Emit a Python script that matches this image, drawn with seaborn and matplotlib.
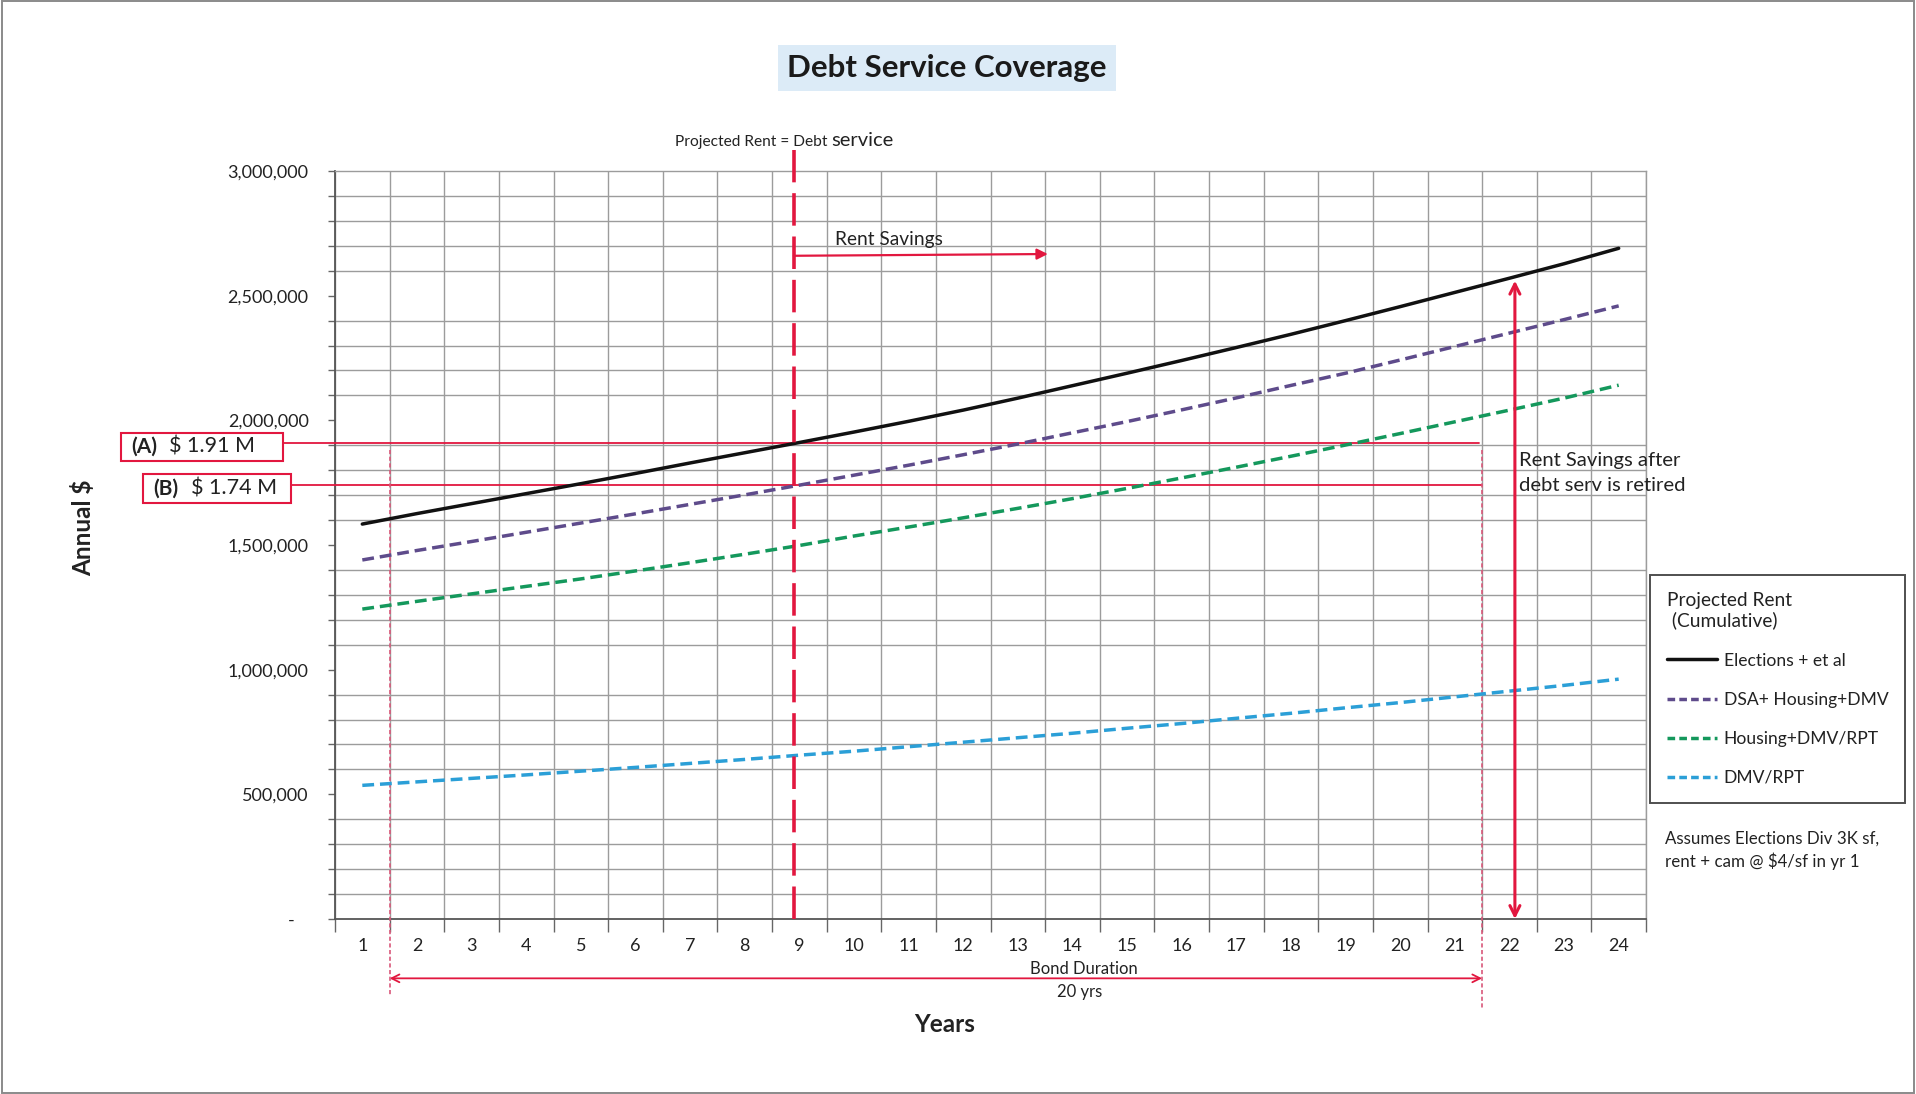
import matplotlib
matplotlib.use("Agg")
import matplotlib.pyplot as plt
import numpy as np
import pandas as pd
import seaborn as sns
from matplotlib.lines import Line2D
from matplotlib.patches import Rectangle
from matplotlib.ticker import FixedLocator, FuncFormatter

# ---- data -------------------------------------------------------------
years = list(range(1, 25))

elections = [1584000, 1626000, 1666000, 1706000, 1746000, 1787000, 1829000, 1870000,
             1911000, 1953000, 1996000, 2041000, 2089000, 2139000, 2189000, 2240000,
             2292000, 2345000, 2400000, 2456000, 2513000, 2570000, 2628000, 2690000]
dsa_housing_dmv = [1440000, 1478000, 1514000, 1551000, 1588000, 1625000, 1663000, 1701000,
                   1740000, 1780000, 1820000, 1862000, 1905000, 1950000, 1995000, 2042000,
                   2090000, 2140000, 2189000, 2242000, 2296000, 2350000, 2404000, 2459000]
housing_dmv_rpt = [1243000, 1274000, 1304000, 1334000, 1364000, 1396000, 1429000, 1463000,
                   1498000, 1536000, 1572000, 1609000, 1647000, 1686000, 1727000, 1769000,
                   1812000, 1856000, 1901000, 1947000, 1994000, 2041000, 2089000, 2141000]
dmv_rpt = [536000, 550000, 564000, 578000, 593000, 608000, 624000, 640000,
           657000, 673000, 691000, 709000, 727000, 745000, 765000, 784000,
           805000, 825000, 847000, 868000, 891000, 914000, 937000, 962000]

series_names = ["Elections + et al", "DSA+ Housing+DMV", "Housing+DMV/RPT", "DMV/RPT"]
series_values = [elections, dsa_housing_dmv, housing_dmv_rpt, dmv_rpt]
series_colors = ["#111111", "#5e4b8b", "#14985c", "#2b9fd7"]

debt_service_a = 1910000   # (A) $ 1.91 M
debt_service_b = 1740000   # (B) $ 1.74 M
y_ticks = [0, 500000, 1000000, 1500000, 2000000, 2500000, 3000000]

# ---- figure -------------------------------------------------------------
W, H, DPI = 1916, 1094, 100
sns.set_theme(style="white")
plt.rcParams["font.family"] = ["Lato", "DejaVu Sans"]

fig = plt.figure(figsize=(W / DPI, H / DPI), dpi=DPI)
fig.patch.set_facecolor("white")


def fx(px):
    return px / W


def fy(py):
    return 1 - py / H


ax = fig.add_axes([fx(335), fy(919), fx(1646) - fx(335), fy(171) - fy(919)])

df = pd.DataFrame({
    "Year": years * len(series_names),
    "Rent": [v for vals in series_values for v in vals],
    "Series": [n for n in series_names for _ in years],
})
dash_map = {series_names[0]: "", series_names[1]: (3.4, 1.7),
            series_names[2]: (3.4, 1.7), series_names[3]: (3.4, 1.7)}
sns.lineplot(data=df, x="Year", y="Rent", hue="Series", style="Series",
             hue_order=series_names, style_order=series_names,
             palette=dict(zip(series_names, series_colors)), dashes=dash_map,
             linewidth=2.5, legend=False, ax=ax, zorder=5)

# ---- axes styling ---------------------------------------------------------
grid_c = "#9c9c9c"
ax.set_xlim(0.5, 24.5)
ax.set_ylim(0, 3000000)
ax.set_xlabel("")
ax.set_ylabel("")

ax.xaxis.set_major_locator(FixedLocator(years))
ax.xaxis.set_minor_locator(FixedLocator([y + 0.5 for y in range(0, 25)]))
ax.set_xticklabels([str(y) for y in years])
ax.yaxis.set_major_locator(FixedLocator(y_ticks))
ax.yaxis.set_minor_locator(FixedLocator(list(range(0, 3000001, 100000))))
ax.yaxis.set_major_formatter(FuncFormatter(lambda v, p: "-   " if v == 0 else f"{int(v):,}"))

ax.grid(False)
ax.grid(which="minor", axis="both", color=grid_c, linewidth=1.0)
ax.tick_params(axis="x", which="major", length=0, pad=14, labelsize=13, labelcolor="#222222")
ax.tick_params(axis="x", which="minor", length=9, width=1.0, color="#666666", direction="out")
ax.tick_params(axis="y", which="both", length=5, width=1.0, color="#666666", direction="out",
               left=True)
ax.tick_params(axis="y", which="major", pad=14, labelsize=13, labelcolor="#222222")
ax.tick_params(axis="x", which="both", bottom=True)
for side in ("left", "bottom"):
    ax.spines[side].set_color("#555555")
    ax.spines[side].set_linewidth(1.3)
for side in ("top", "right"):
    ax.spines[side].set_color(grid_c)
    ax.spines[side].set_linewidth(1.0)

# ---- annotations ----------------------------------------------------------
red = "#e2173f"
pink = "#d9587a"
breakeven_year = 8.9

# projected rent = debt service marker
ax.plot([breakeven_year, breakeven_year], [0, 3085000], color=red, lw=2.6,
        dashes=(9, 3), clip_on=False, zorder=6)

# debt service levels
ax.plot([-0.45, 21.45], [debt_service_a, debt_service_a], color=red, lw=1.3,
        clip_on=False, zorder=4)
ax.plot([-0.31, 21.5], [debt_service_b, debt_service_b], color=red, lw=1.3,
        clip_on=False, zorder=4)

# bond term boundaries
for bx, bottom in ((1.5, -310000), (21.5, -360000)):
    ax.plot([bx, bx], [1880000, bottom], color=pink, lw=1.2, dashes=(2.5, 1.5),
            clip_on=False, zorder=4)

# rent savings arrow
ax.annotate("", xy=(13.55, 2667000), xytext=(breakeven_year, 2660000),
            arrowprops=dict(arrowstyle="-|>", color=red, lw=1.6, mutation_scale=16,
                            shrinkA=0, shrinkB=0), zorder=6)
ax.text(9.65, 2727000, "Rent Savings", fontsize=13.8, color="#222222",
        ha="left", va="center")

# savings after retirement arrow
ax.annotate("", xy=(22.1, 2560000), xytext=(22.1, 0),
            arrowprops=dict(arrowstyle="<->", color=red, lw=2.2, mutation_scale=18,
                            shrinkA=0, shrinkB=0), zorder=6, annotation_clip=False)

# bond duration arrow
ax.annotate("", xy=(21.5, -238000), xytext=(1.5, -238000),
            arrowprops=dict(arrowstyle="<->", color=red, lw=1.3, mutation_scale=14,
                            shrinkA=0, shrinkB=0), annotation_clip=False)

# ---- figure texts -----------------------------------------------------------
fig.text(fx(947), fy(68), "Debt Service Coverage", fontsize=22.5, fontweight="bold",
         color="#1a1a1a", ha="center", va="center",
         bbox=dict(boxstyle="square,pad=0.3", facecolor="#dcebf7", edgecolor="none"))

t1 = fig.text(fx(675), fy(146), "Projected Rent = Debt ", fontsize=11.2,
              color="#222222", ha="left", va="baseline")
ax.annotate("service", xy=(1, 0), xycoords=t1, xytext=(0, 0), textcoords="offset points",
            fontsize=14.5, color="#222222", ha="left", va="bottom", annotation_clip=False)

fig.text(fx(83), fy(528), "Annual $", fontsize=17.5, fontweight="bold", rotation=90,
         ha="center", va="center", color="#222222")
fig.text(fx(945), fy(1024), "Years", fontsize=17.5, fontweight="bold",
         ha="center", va="center", color="#222222")
fig.text(fx(1084), fy(969), "Bond Duration", fontsize=12, ha="center", va="center",
         color="#222222")
fig.text(fx(1080), fy(992), "20 yrs", fontsize=12, ha="center", va="center",
         color="#222222")
fig.text(fx(1519), fy(473), "Rent Savings after\ndebt serv is retired", fontsize=14.6,
         ha="left", va="center", color="#222222", linespacing=1.6)
fig.text(fx(1665), fy(850), "Assumes Elections Div 3K sf,\nrent + cam @ $4/sf in yr 1",
         fontsize=12.2, ha="left", va="center", color="#222222", linespacing=1.4)

# labelled debt-service boxes
for (x0, y0, x1, y1), tag, amount in (((121, 433, 283, 461), "(A)", "$ 1.91 M"),
                                       ((143, 474, 291, 503), "(B)", "$ 1.74 M")):
    fig.patches.append(Rectangle((fx(x0), fy(y1)), fx(x1) - fx(x0), fy(y0) - fy(y1),
                                 transform=fig.transFigure, facecolor="white",
                                 edgecolor=red, lw=1.5))
    cy = fy((y0 + y1) / 2)
    fig.text(fx(x0 + 10), cy, tag, fontsize=15, fontweight="bold", ha="left",
             va="center", color="#222222")
    fig.text(fx(x0 + 48), cy, amount, fontsize=15.5, ha="left", va="center",
             color="#222222")

# ---- legend -----------------------------------------------------------------
handles = []
for i, c in enumerate(series_colors):
    h = Line2D([0], [0], color=c, lw=2.5)
    if i > 0:
        h.set_dashes((2.2, 1.2))
    handles.append(h)
leg = ax.legend(handles, series_names, title="Projected Rent\n (Cumulative)",
                loc="upper left", bbox_to_anchor=(fx(1650), fy(575)),
                bbox_transform=fig.transFigure, borderaxespad=0, frameon=True,
                fancybox=False, fontsize=12.6, title_fontsize=13.8,
                handlelength=2.9, handletextpad=0.35, labelspacing=1.32,
                borderpad=0.95, alignment="left")
leg.get_frame().set_edgecolor("#222222")
leg.get_frame().set_linewidth(1.4)
for txt in leg.get_texts():
    txt.set_color("#222222")
leg.get_title().set_color("#222222")

# outer frame
fig.patches.append(Rectangle((0.0008, 0.0012), 0.9984, 0.9976, transform=fig.transFigure,
                             fill=False, edgecolor="#8a8a8a", lw=1.4))

fig.savefig("out.png", dpi=DPI, facecolor="white")
